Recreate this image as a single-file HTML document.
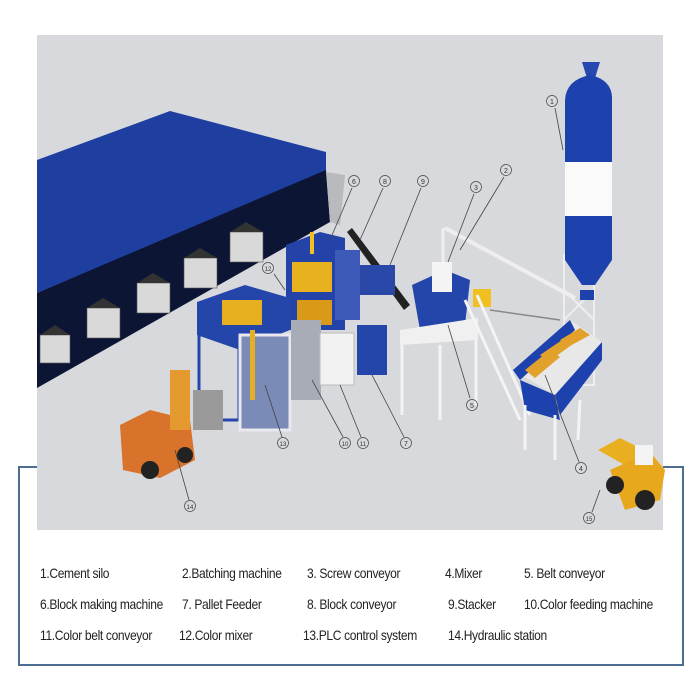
<!DOCTYPE html>
<html><head><meta charset="utf-8"><style>
html,body{margin:0;padding:0;background:#fff;width:700px;height:700px;overflow:hidden}
.lg{position:absolute;font-family:"Liberation Sans",sans-serif;font-size:14px;color:#222;white-space:nowrap;letter-spacing:-0.4px;transform:scaleX(0.86);transform-origin:0 0}
</style></head><body>
<svg width="700" height="700" style="position:absolute;left:0;top:0" xmlns="http://www.w3.org/2000/svg">
<!-- legend box -->
<rect x="19" y="467" width="664" height="198" fill="#fff" stroke="#4d6d92" stroke-width="2"/>
<rect x="37" y="35" width="626" height="495" fill="#d7d9dd"/>
<!-- warehouse -->
<polygon points="37,160 170,111 326,152 326,172 37,293" fill="#1e3fa0"/>
<polygon points="37,293 326,170 330,222 37,388" fill="#0c1533"/>
<polygon points="326,172 345,175 340,225 330,222" fill="#b8babe"/>
<!-- pallets of blocks -->
<g fill="#d9d9d9" stroke="#555" stroke-width="0.6">
<rect x="40" y="335" width="30" height="28"/><rect x="87" y="308" width="33" height="30"/><rect x="137" y="283" width="33" height="30"/><rect x="184" y="258" width="33" height="30"/><rect x="230" y="232" width="33" height="30"/>
</g>
<g fill="#333"><polygon points="40,335 55,325 70,335"/><polygon points="87,308 103,298 120,308"/><polygon points="137,283 153,273 170,283"/><polygon points="184,258 200,248 217,258"/><polygon points="230,232 246,222 263,232"/></g>
<!-- block machine -->
<polygon points="286,245 320,232 345,238 345,330 286,330" fill="#2343a8"/>
<rect x="292" y="262" width="40" height="30" fill="#e8b21e"/>
<rect x="297" y="300" width="35" height="25" fill="#d89a18"/>
<rect x="335" y="250" width="25" height="70" fill="#3d5ab8"/>
<rect x="310" y="232" width="4" height="22" fill="#f0c020"/>
<polygon points="347,232 352,228 410,305 404,310" fill="#222"/>
<rect x="360" y="265" width="35" height="30" fill="#2a48a8"/>
<!-- pallet feeder box -->
<polygon points="197,302 245,285 290,298 290,330 240,350 197,335" fill="#2446aa"/>
<rect x="222" y="300" width="40" height="25" fill="#e6b020"/>
<rect x="199" y="335" width="40" height="85" fill="none" stroke="#2446aa" stroke-width="3"/>
<rect x="240" y="335" width="50" height="95" fill="#7b8bb8" stroke="#e8e8ee" stroke-width="3"/>
<rect x="291" y="320" width="30" height="80" fill="#a7acb7"/>
<rect x="250" y="330" width="5" height="70" fill="#e6b020"/>
<!-- PLC + hydraulic -->
<rect x="320" y="333" width="34" height="52" fill="#f2f2f2" stroke="#bbb"/>
<rect x="357" y="325" width="30" height="50" fill="#2446aa"/>
<!-- mixer -->
<polygon points="412,285 445,270 470,280 465,325 420,330" fill="#2446aa"/>
<rect x="432" y="262" width="20" height="30" fill="#f4f4f4"/>
<rect x="473" y="289" width="18" height="18" fill="#f0c020"/>
<polygon points="400,330 478,318 478,340 400,345" fill="#f0f0f0"/>
<g stroke="#f4f4f4" stroke-width="3"><line x1="402" y1="345" x2="402" y2="415"/><line x1="440" y1="345" x2="440" y2="420"/><line x1="476" y1="340" x2="476" y2="405"/><line x1="465" y1="300" x2="520" y2="420"/><line x1="477" y1="295" x2="530" y2="415"/></g>
<!-- screw conveyor -->
<line x1="445" y1="228" x2="575" y2="298" stroke="#eee" stroke-width="4"/>
<line x1="443" y1="228" x2="443" y2="262" stroke="#eee" stroke-width="3"/>
<line x1="490" y1="310" x2="560" y2="320" stroke="#888" stroke-width="1.5"/>
<!-- silo -->
<g stroke="#eee" stroke-width="2" fill="none"><rect x="564" y="255" width="30" height="130"/><line x1="564" y1="290" x2="594" y2="320"/><line x1="594" y1="290" x2="564" y2="320"/><line x1="564" y1="330" x2="594" y2="360"/></g>
<polygon points="582,62 600,62 595,78 587,78" fill="#2748b0"/>
<path d="M565,100 Q566,80 590,75 Q613,80 612,100 L612,162 L565,162 Z" fill="#1e42ad"/>
<rect x="565" y="162" width="47" height="54" fill="#fafafa"/>
<rect x="565" y="216" width="47" height="44" fill="#1e42ad"/>
<polygon points="565,260 612,260 595,285 582,285" fill="#1e42ad"/>
<rect x="580" y="290" width="14" height="10" fill="#1e42ad"/>
<!-- batching -->
<polygon points="513,370 570,320 602,342 555,395" fill="#e8e8e8"/>
<polygon points="513,370 570,320 575,330 520,380" fill="#1e42ad"/>
<polygon points="555,395 602,342 602,360 560,415" fill="#1e42ad"/>
<g fill="#e2a12a"><polygon points="525,370 550,350 560,357 535,378"/><polygon points="540,355 565,338 573,344 548,362"/><polygon points="560,340 580,328 590,335 568,347"/></g>
<polygon points="520,380 555,395 560,420 525,410" fill="#1e42ad"/>
<g stroke="#f4f4f4" stroke-width="3"><line x1="525" y1="405" x2="525" y2="450"/><line x1="555" y1="415" x2="555" y2="460"/><line x1="580" y1="400" x2="578" y2="440"/></g>
<!-- forklift -->
<polygon points="120,425 150,410 190,420 195,460 160,478 123,470" fill="#d9722a"/>
<rect x="170" y="370" width="20" height="60" fill="#e59a30"/>
<rect x="193" y="390" width="30" height="40" fill="#9a9a9a"/>
<circle cx="150" cy="470" r="9" fill="#222"/><circle cx="185" cy="455" r="8" fill="#222"/>
<!-- loader -->
<polygon points="598,450 620,438 640,448 630,468" fill="#e8b020"/>
<polygon points="610,470 650,452 665,470 660,500 625,510" fill="#e8a81e"/>
<rect x="635" y="445" width="18" height="20" fill="#f4f4f4"/>
<circle cx="615" cy="485" r="9" fill="#222"/><circle cx="645" cy="500" r="10" fill="#222"/>
<!-- leader lines -->
<g stroke="#444" stroke-width="0.8" fill="none">
<line x1="555" y1="108" x2="563" y2="150"/><line x1="504" y1="177" x2="460" y2="250"/><line x1="474" y1="194" x2="448" y2="262"/>
<line x1="352" y1="188" x2="330" y2="240"/><line x1="383" y1="188" x2="360" y2="240"/><line x1="421" y1="188" x2="390" y2="265"/>
<line x1="274" y1="274" x2="285" y2="290"/><line x1="282" y1="437" x2="265" y2="385"/><line x1="343" y1="437" x2="312" y2="380"/>
<line x1="361" y1="437" x2="340" y2="385"/><line x1="404" y1="437" x2="372" y2="375"/><line x1="470" y1="398" x2="448" y2="325"/>
<line x1="579" y1="462" x2="545" y2="375"/><line x1="189" y1="500" x2="175" y2="450"/><line x1="592" y1="512" x2="600" y2="490"/>
</g>
<g font-family="Liberation Sans, sans-serif" font-size="7" fill="#333" text-anchor="middle" stroke-width="0.7">
<g fill="none" stroke="#444"><circle cx="552" cy="101" r="5.5"/><circle cx="506" cy="170" r="5.5"/><circle cx="476" cy="187" r="5.5"/><circle cx="354" cy="181" r="5.5"/><circle cx="385" cy="181" r="5.5"/><circle cx="423" cy="181" r="5.5"/><circle cx="268" cy="268" r="5.5"/><circle cx="283" cy="443" r="5.5"/><circle cx="345" cy="443" r="5.5"/><circle cx="363" cy="443" r="5.5"/><circle cx="406" cy="443" r="5.5"/><circle cx="472" cy="405" r="5.5"/><circle cx="581" cy="468" r="5.5"/><circle cx="190" cy="506" r="5.5"/><circle cx="589" cy="518" r="5.5"/></g>
<text x="552" y="104">1</text><text x="506" y="173">2</text><text x="476" y="190">3</text><text x="354" y="184">6</text><text x="385" y="184">8</text><text x="423" y="184">9</text><text x="268" y="271" font-size="6">12</text><text x="283" y="446" font-size="6">13</text><text x="345" y="446" font-size="6">10</text><text x="363" y="446" font-size="6">11</text><text x="406" y="446">7</text><text x="472" y="408">5</text><text x="581" y="471">4</text><text x="190" y="509" font-size="6">14</text><text x="589" y="521" font-size="6">15</text>
</g>
</svg>
<div class="lg" style="left:40px;top:565px">1.Cement silo</div>
<div class="lg" style="left:182px;top:565px">2.Batching machine</div>
<div class="lg" style="left:307px;top:565px">3. Screw conveyor</div>
<div class="lg" style="left:445px;top:565px">4.Mixer</div>
<div class="lg" style="left:524px;top:565px">5. Belt conveyor</div>
<div class="lg" style="left:40px;top:596px">6.Block making machine</div>
<div class="lg" style="left:182px;top:596px">7. Pallet Feeder</div>
<div class="lg" style="left:307px;top:596px">8. Block conveyor</div>
<div class="lg" style="left:448px;top:596px">9.Stacker</div>
<div class="lg" style="left:524px;top:596px">10.Color feeding machine</div>
<div class="lg" style="left:40px;top:627px">11.Color belt conveyor</div>
<div class="lg" style="left:179px;top:627px">12.Color mixer</div>
<div class="lg" style="left:303px;top:627px">13.PLC control system</div>
<div class="lg" style="left:448px;top:627px">14.Hydraulic station</div>
</body></html>
